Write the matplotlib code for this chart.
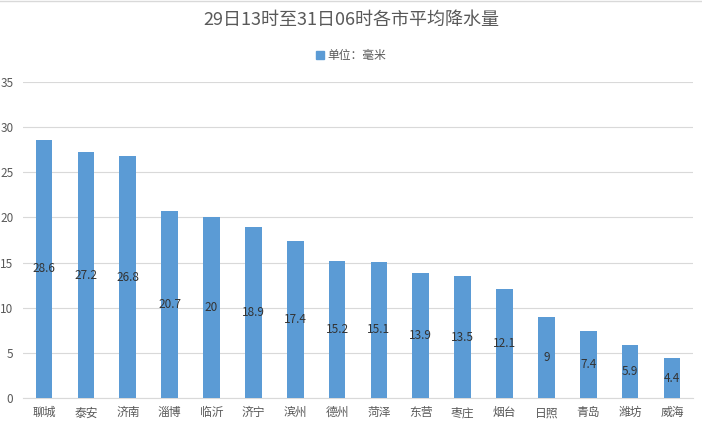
import matplotlib.pyplot as plt
import matplotlib.patches as mpatches

plt.rcParams['font.family'] = ['Noto Sans CJK SC', 'DejaVu Sans']

cities = ["聊城", "泰安", "济南", "淄博", "临沂", "济宁", "滨州", "德州",
          "菏泽", "东营", "枣庄", "烟台", "日照", "青岛", "潍坊", "威海"]
rain = [28.6, 27.2, 26.8, 20.7, 20, 18.9, 17.4, 15.2,
        15.1, 13.9, 13.5, 12.1, 9, 7.4, 5.9, 4.4]
yticks = [0, 5, 10, 15, 20, 25, 30, 35]

bar_color = '#5B9BD5'
text_color = '#595959'

fig = plt.figure(figsize=(7.02, 4.24), dpi=100)
ax = fig.add_axes([0.033, 0.0613, 0.954, 0.7453])

x = range(len(cities))
ax.bar(x, rain, width=0.4, color=bar_color, zorder=3)
for i, v in zip(x, rain):
    ax.text(i, v / 2, f"{v:g}", ha='center', va='center', fontsize=8.5, color='#333333', zorder=4)

ax.set_xlim(-0.5, len(cities) - 0.5)
ax.set_ylim(0, 35)
ax.set_yticks(yticks)
ax.set_xticks(list(x))
ax.set_xticklabels(cities)
ax.tick_params(axis='both', length=0, labelsize=8.5, colors=text_color)
ax.tick_params(axis='y', pad=7)
ax.tick_params(axis='x', pad=6)
ax.grid(axis='y', color='#D9D9D9', linewidth=0.8, zorder=0)
for s in ['top', 'right', 'left']:
    ax.spines[s].set_visible(False)
ax.spines['bottom'].set_color('#D9D9D9')

fig.text(0.5, 0.952, "29日13时至31日06时各市平均降水量", ha='center', va='center',
         fontsize=13, color=text_color)
patch = mpatches.Patch(color=bar_color, label='单位：毫米')
fig.legend(handles=[patch], loc='center', bbox_to_anchor=(0.5, 0.868), frameon=False,
           fontsize=8.5, labelcolor=text_color, handlelength=0.7, handleheight=0.7,
           handletextpad=0.3)

fig.add_artist(plt.Line2D([0, 1], [0.997, 0.997], color='#D9D9D9', linewidth=1))

fig.savefig("out.png", dpi=100)
